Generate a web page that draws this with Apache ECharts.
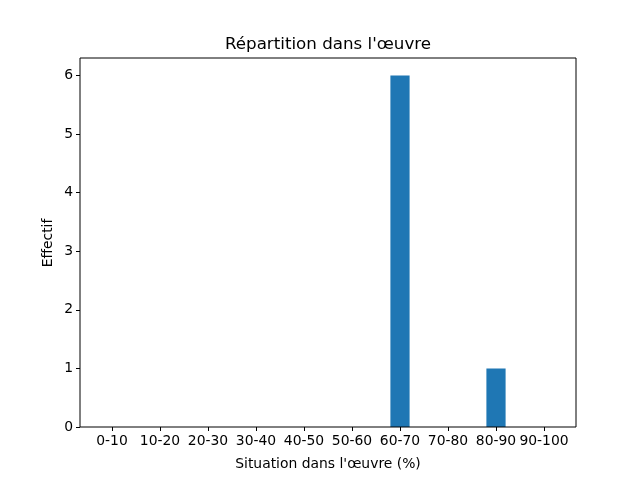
<!DOCTYPE html>
<html>
<head>
<meta charset="utf-8">
<script src="https://cdn.jsdelivr.net/npm/echarts@6/dist/echarts.min.js"></script>
<style>html,body{margin:0;padding:0;background:#fff}#c{width:640px;height:480px}</style>
</head>
<body>
<div id="c"></div>
<script>
const categories = ['0-10','10-20','20-30','30-40','40-50','50-60','60-70','70-80','80-90','90-100'];
const counts = [0,0,0,0,0,0,6,0,1,0];
const yTicks = [0,1,2,3,4,5,6];

const font = 'DejaVu Sans';
const chart = echarts.init(document.getElementById('c'), null, {renderer:'canvas'});
chart.setOption({
  animation:false,
  backgroundColor:'#fff',
  grid:{left:88,top:58,width:480,height:369,containLabel:false},
  xAxis:{type:'category',data:categories,boundaryGap:true,
    axisLine:{show:false},
    axisTick:{show:true,alignWithLabel:true,length:4,lineStyle:{color:'#000'}},
    axisLabel:{color:'#000',fontFamily:font,fontSize:13.9,margin:7,interval:0},
    name:"Situation dans l'œuvre (%)",nameLocation:'middle',nameGap:30,
    nameTextStyle:{color:'#000',fontFamily:font,fontSize:13.9}},
  yAxis:{type:'value',min:0,max:6.3,interval:1,offset:8,
    splitLine:{show:false},axisLine:{show:false},
    axisTick:{show:true,length:4,lineStyle:{color:'#000'},customValues:yTicks},
    axisLabel:{color:'#000',fontFamily:font,fontSize:13.9,margin:7,customValues:yTicks}},
  series:[{type:'bar',data:counts,barWidth:'40%',itemStyle:{color:'#1f77b4'}}],
  graphic:[
    {type:'rect',shape:{x:80,y:58,width:496,height:369},
     style:{fill:null,stroke:'#000',lineWidth:1},z:100,silent:true},
    {type:'text',x:328,y:45,z:100,silent:true,
     style:{text:"Répartition dans l'œuvre",fontFamily:font,fontSize:16.7,fill:'#000',
       textAlign:'center',textVerticalAlign:'middle'}},
    {type:'text',x:48,y:243,rotation:Math.PI/2,z:100,silent:true,
     style:{text:'Effectif',fontFamily:font,fontSize:13.9,fill:'#000',
       textAlign:'center',textVerticalAlign:'middle'}}
  ]
});
</script>
</body>
</html>
